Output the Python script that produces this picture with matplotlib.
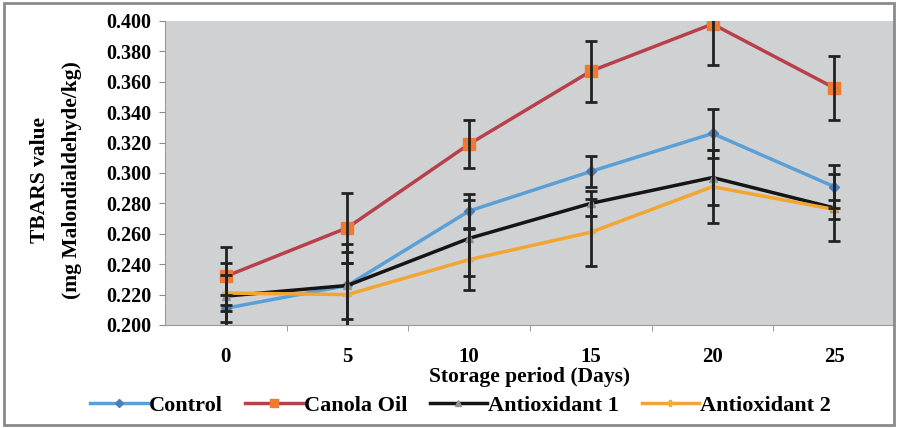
import matplotlib.pyplot as plt
from matplotlib.patches import Rectangle

# Datos
days = ['0', '5', '10', '15', '20', '25']
control = [0.211, 0.226, 0.275, 0.301, 0.326, 0.291]
control_err = [0.009, 0.027, 0.011, 0.010, 0.016, 0.014]
canola = [0.232, 0.264, 0.319, 0.367, 0.398, 0.356]
canola_err = [0.019, 0.023, 0.016, 0.020, 0.027, 0.021]
antiox1 = [0.219, 0.226, 0.257, 0.280, 0.297, 0.277]
antiox1_err = [0.022, 0.022, 0.025, 0.008, 0.018, 0.022]
antiox2 = [0.221, 0.220, 0.243, 0.261, 0.291, 0.276]
antiox2_err = [0.012, 0.021, 0.020, 0.022, 0.024, 0.006]

plt.rcParams['font.family'] = ['Liberation Serif', 'DejaVu Serif']
plt.rcParams['font.weight'] = 'bold'

fig = plt.figure(figsize=(8.98, 4.28), dpi=100)
ax = fig.add_axes([0.1837, 0.2407, 0.813, 0.7103])
ax.set_facecolor('#cfd1d3')

x = list(range(len(days)))

series = [
    ('Control', control, control_err, '#5a9fd6', 'D', '#4a7fb8', 5),
    ('Canola Oil', canola, canola_err, '#b8404a', 's', '#f07a30', 8),
    ('Antioxidant 1', antiox1, antiox1_err, '#151515', '^', '#8f9597', 6),
    ('Antioxidant 2', antiox2, antiox2_err, '#f2a531', 'P', '#e8b040', 6),
]

for name, vals, err, lc, mk, mc, ms in series:
    ax.plot(x, vals, color=lc, lw=2.5, marker=mk, markersize=ms,
            markerfacecolor=mc, markeredgecolor=mc, label=name, zorder=3)
    ax.errorbar(x, vals, yerr=err, fmt='none', ecolor='#222222',
                elinewidth=2, capsize=4, capthick=2, zorder=4)

ax.set_xlim(-0.5, 5.5)
ax.set_ylim(0.2, 0.4)
ax.set_yticks([0.2 + 0.02 * i for i in range(11)])
ax.set_yticklabels(['%.3f' % (0.2 + 0.02 * i) for i in range(11)], fontsize=14.5)
ax.set_xticks(x)
ax.set_xticklabels(days, fontsize=15)
ax.set_xticks([i + 0.5 for i in range(5)], minor=True)
ax.tick_params(axis='x', which='major', length=0, pad=16)
ax.tick_params(axis='x', which='minor', length=4, color='#888888')
ax.tick_params(axis='y', length=4, color='#888888', pad=6)

for s in ['top', 'right']:
    ax.spines[s].set_visible(False)
ax.spines['left'].set_color('#999999')
ax.spines['bottom'].set_color('#999999')

ax.set_xlabel('Storage period (Days)', fontsize=15.5, fontweight='bold', labelpad=0)
fig.text(0.045, 0.58, 'TBARS value', rotation=90, fontsize=15.5,
         fontweight='bold', ha='center', va='center')
fig.text(0.080, 0.58, '(mg Malondialdehyde/kg)', rotation=90, fontsize=15.5,
         fontweight='bold', ha='center', va='center')

leg = ax.legend(loc='center', bbox_to_anchor=(0.513, 0.052), bbox_transform=fig.transFigure,
                ncol=4, frameon=False, handlelength=2.6, markerscale=0.8,
                columnspacing=1.0, handletextpad=0.05,
                prop={'size': 16, 'weight': 'bold'})

# Marco exterior
fig.patches.append(Rectangle((0.004, 0.006), 0.992, 0.988, transform=fig.transFigure,
                             fill=False, edgecolor='#8a8a8a', lw=2))

fig.savefig('out.png', dpi=100)
